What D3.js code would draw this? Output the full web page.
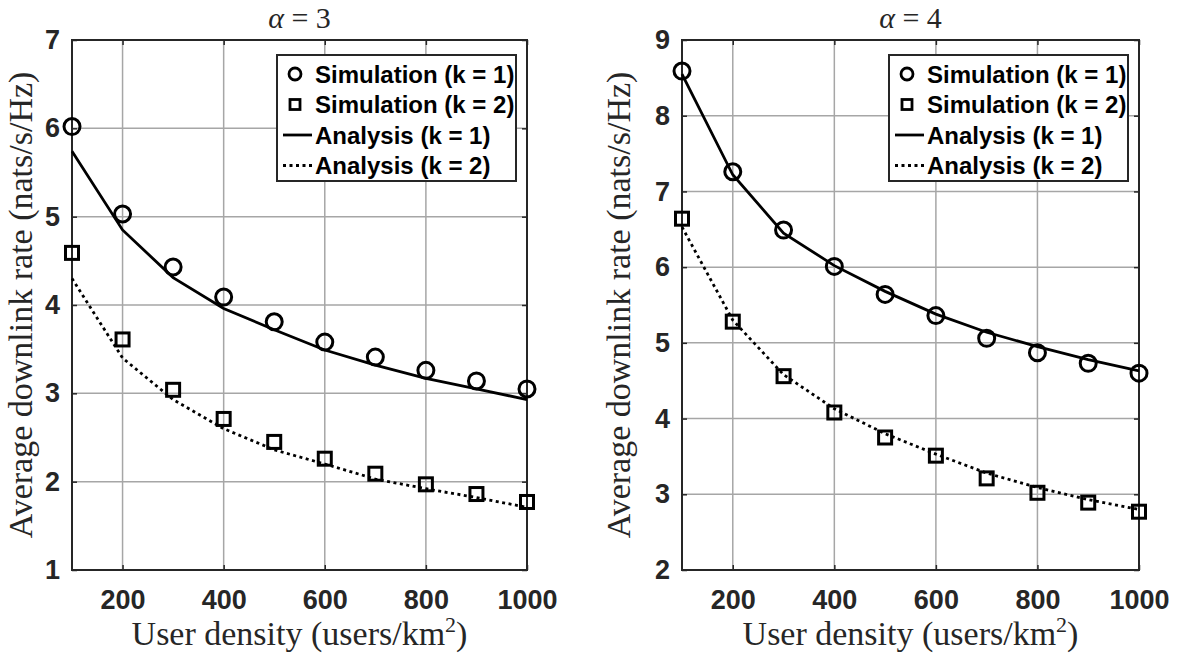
<!DOCTYPE html>
<html>
<head>
<meta charset="utf-8">
<script src="https://cdn.jsdelivr.net/npm/d3@7"></script>
<style>
  body { margin: 0; background: #fff; }
  svg { display: block; }
</style>
</head>
<body>
<script>
// canvas
const width = 1180, height = 655;

// data
const density = [100, 200, 300, 400, 500, 600, 700, 800, 900, 1000];
const xTicks = [200, 400, 600, 800, 1000];

// alpha = 3
const simK1A3 = [6.02, 5.03, 4.43, 4.09, 3.81, 3.58, 3.41, 3.26, 3.14, 3.05];
const simK2A3 = [4.59, 3.61, 3.04, 2.71, 2.45, 2.26, 2.09, 1.97, 1.86, 1.77];
const anaK1A3 = [5.74, 4.85, 4.31, 3.96, 3.72, 3.49, 3.32, 3.17, 3.05, 2.93];
const anaK2A3 = [4.30, 3.40, 2.93, 2.60, 2.36, 2.20, 2.03, 1.92, 1.82, 1.71];
const yTicksA3 = [1, 2, 3, 4, 5, 6, 7];

// alpha = 4
const simK1A4 = [8.59, 7.26, 6.49, 6.01, 5.64, 5.36, 5.06, 4.87, 4.73, 4.60];
const simK2A4 = [6.64, 5.28, 4.56, 4.08, 3.75, 3.51, 3.21, 3.02, 2.89, 2.77];
const anaK1A4 = [8.55, 7.22, 6.45, 6.02, 5.68, 5.38, 5.14, 4.95, 4.78, 4.63];
const anaK2A4 = [6.53, 5.30, 4.58, 4.13, 3.80, 3.53, 3.28, 3.09, 2.93, 2.80];
const yTicksA4 = [2, 3, 4, 5, 6, 7, 8, 9];

const legendLabels = ['Simulation (k = 1)', 'Simulation (k = 2)', 'Analysis (k = 1)', 'Analysis (k = 2)'];

// styles
const axisColor = '#262626', gridColor = '#a6a6a6';
const tickFont = '"Liberation Sans", Arial, sans-serif';
const serifFont = '"Liberation Serif", "Times New Roman", serif';

const svg = d3.select('body').append('svg')
    .attr('width', width)
    .attr('height', height);

const drawPanel = (p) => {
    const g = svg.append('g');
    const x = d3.scaleLinear().domain([100, 1000]).range([p.left, p.right]);
    const y = d3.scaleLinear().domain(p.yDomain).range([p.bottom, p.top]);
    const fmt = d3.format('d');

    // grid
    g.selectAll('.gx').data(xTicks).enter().append('line')
        .attr('x1', d => x(d)).attr('x2', d => x(d))
        .attr('y1', p.top).attr('y2', p.bottom)
        .attr('stroke', gridColor).attr('stroke-width', 1.5);
    g.selectAll('.gy').data(p.yTicks).enter().append('line')
        .attr('x1', p.left).attr('x2', p.right)
        .attr('y1', d => y(d)).attr('y2', d => y(d))
        .attr('stroke', gridColor).attr('stroke-width', 1.5);

    // axes (ticks inside, box on)
    const tick = 5;
    const bottomAxis = g.append('g').attr('transform', `translate(0,${p.bottom})`)
        .call(d3.axisBottom(x).tickValues(xTicks).tickFormat(fmt).tickSizeInner(-tick).tickSizeOuter(0).tickPadding(20));
    const topAxis = g.append('g').attr('transform', `translate(0,${p.top})`)
        .call(d3.axisTop(x).tickValues(xTicks).tickSizeInner(-tick).tickSizeOuter(0).tickFormat(''));
    const leftAxis = g.append('g').attr('transform', `translate(${p.left},0)`)
        .call(d3.axisLeft(y).tickValues(p.yTicks).tickFormat(fmt).tickSizeInner(-tick).tickSizeOuter(0).tickPadding(12));
    const rightAxis = g.append('g').attr('transform', `translate(${p.right},0)`)
        .call(d3.axisRight(y).tickValues(p.yTicks).tickSizeInner(-tick).tickSizeOuter(0).tickFormat(''));
    [bottomAxis, topAxis, leftAxis, rightAxis].forEach(a => {
        a.select('.domain').remove();
        a.selectAll('line').attr('stroke', axisColor).attr('stroke-width', 1.5);
        a.selectAll('text')
            .attr('fill', axisColor)
            .style('font-family', tickFont)
            .style('font-weight', 'bold')
            .style('font-size', '27px');
    });
    bottomAxis.selectAll('text').attr('dy', '0.71em');
    g.append('rect')
        .attr('x', p.left).attr('y', p.top)
        .attr('width', p.right - p.left).attr('height', p.bottom - p.top)
        .attr('fill', 'none').attr('stroke', axisColor).attr('stroke-width', 2);

    // analysis lines
    const line = d3.line().x((d, i) => x(density[i])).y(d => y(d));
    g.append('path').attr('d', line(p.anaK1))
        .attr('fill', 'none').attr('stroke', '#000').attr('stroke-width', 2.8);
    g.append('path').attr('d', line(p.anaK2))
        .attr('fill', 'none').attr('stroke', '#000').attr('stroke-width', 2.8)
        .attr('stroke-dasharray', '3,3.5');

    // simulation markers
    g.selectAll('.c').data(p.simK1).enter().append('circle')
        .attr('cx', (d, i) => x(density[i])).attr('cy', d => y(d))
        .attr('r', 8).attr('fill', 'none').attr('stroke', '#000').attr('stroke-width', 3);
    g.selectAll('.s').data(p.simK2).enter().append('rect')
        .attr('x', (d, i) => x(density[i]) - 6.5).attr('y', d => y(d) - 6.5)
        .attr('width', 13).attr('height', 13)
        .attr('fill', 'none').attr('stroke', '#000').attr('stroke-width', 3);

    // legend
    const lw = 239, lh = 126;
    const lx = p.right - 11 - lw, ly = p.top + 15;
    const leg = g.append('g').attr('transform', `translate(${lx},${ly})`);
    leg.append('rect').attr('width', lw).attr('height', lh)
        .attr('fill', '#fff').attr('stroke', axisColor).attr('stroke-width', 2);
    legendLabels.forEach((t, i) => {
        const cy = 19 + i * 30.5;
        if (i === 0) {
            leg.append('circle').attr('cx', 18).attr('cy', cy).attr('r', 6)
                .attr('fill', 'none').attr('stroke', '#000').attr('stroke-width', 2.8);
        } else if (i === 1) {
            leg.append('rect').attr('x', 13).attr('y', cy - 5).attr('width', 10).attr('height', 10)
                .attr('fill', 'none').attr('stroke', '#000').attr('stroke-width', 2.8);
        } else {
            leg.append('line').attr('x1', 6).attr('x2', 35).attr('y1', cy).attr('y2', cy)
                .attr('stroke', '#000').attr('stroke-width', 2.8)
                .attr('stroke-dasharray', i === 3 ? '3,3.5' : null);
        }
        leg.append('text').attr('x', 38).attr('y', cy).attr('dy', '0.36em')
            .style('font-family', tickFont).style('font-weight', 'bold').style('font-size', '24px')
            .attr('fill', '#000').text(t);
    });

    // labels
    const cx = (p.left + p.right) / 2;
    const title = g.append('text').attr('x', cx).attr('y', 28).attr('text-anchor', 'middle')
        .style('font-family', serifFont).style('font-size', '30px').attr('fill', axisColor);
    title.append('tspan').style('font-style', 'italic').text('α');
    title.append('tspan').text(' = ' + p.alpha);

    const xl = g.append('text').attr('x', cx).attr('y', 645).attr('text-anchor', 'middle')
        .style('font-family', serifFont).style('font-size', '34px').attr('fill', axisColor);
    xl.append('tspan').text('User density (users/km');
    xl.append('tspan').attr('dy', -13).style('font-size', '22px').text('2');
    xl.append('tspan').attr('dy', 13).text(')');

    g.append('text')
        .attr('transform', `translate(${p.yLabelX},${(p.top + p.bottom) / 2}) rotate(-90)`)
        .attr('text-anchor', 'middle')
        .style('font-family', serifFont).style('font-size', '34px').attr('fill', axisColor)
        .text('Average downlink rate (nats/s/Hz)');
};

drawPanel({
    left: 72, right: 527, top: 40, bottom: 570, yLabelX: 32,
    yDomain: [1, 7], yTicks: yTicksA3, alpha: 3,
    simK1: simK1A3, simK2: simK2A3, anaK1: anaK1A3, anaK2: anaK2A3
});
drawPanel({
    left: 682, right: 1139, top: 40, bottom: 570, yLabelX: 630,
    yDomain: [2, 9], yTicks: yTicksA4, alpha: 4,
    simK1: simK1A4, simK2: simK2A4, anaK1: anaK1A4, anaK2: anaK2A4
});
</script>
</body>
</html>
